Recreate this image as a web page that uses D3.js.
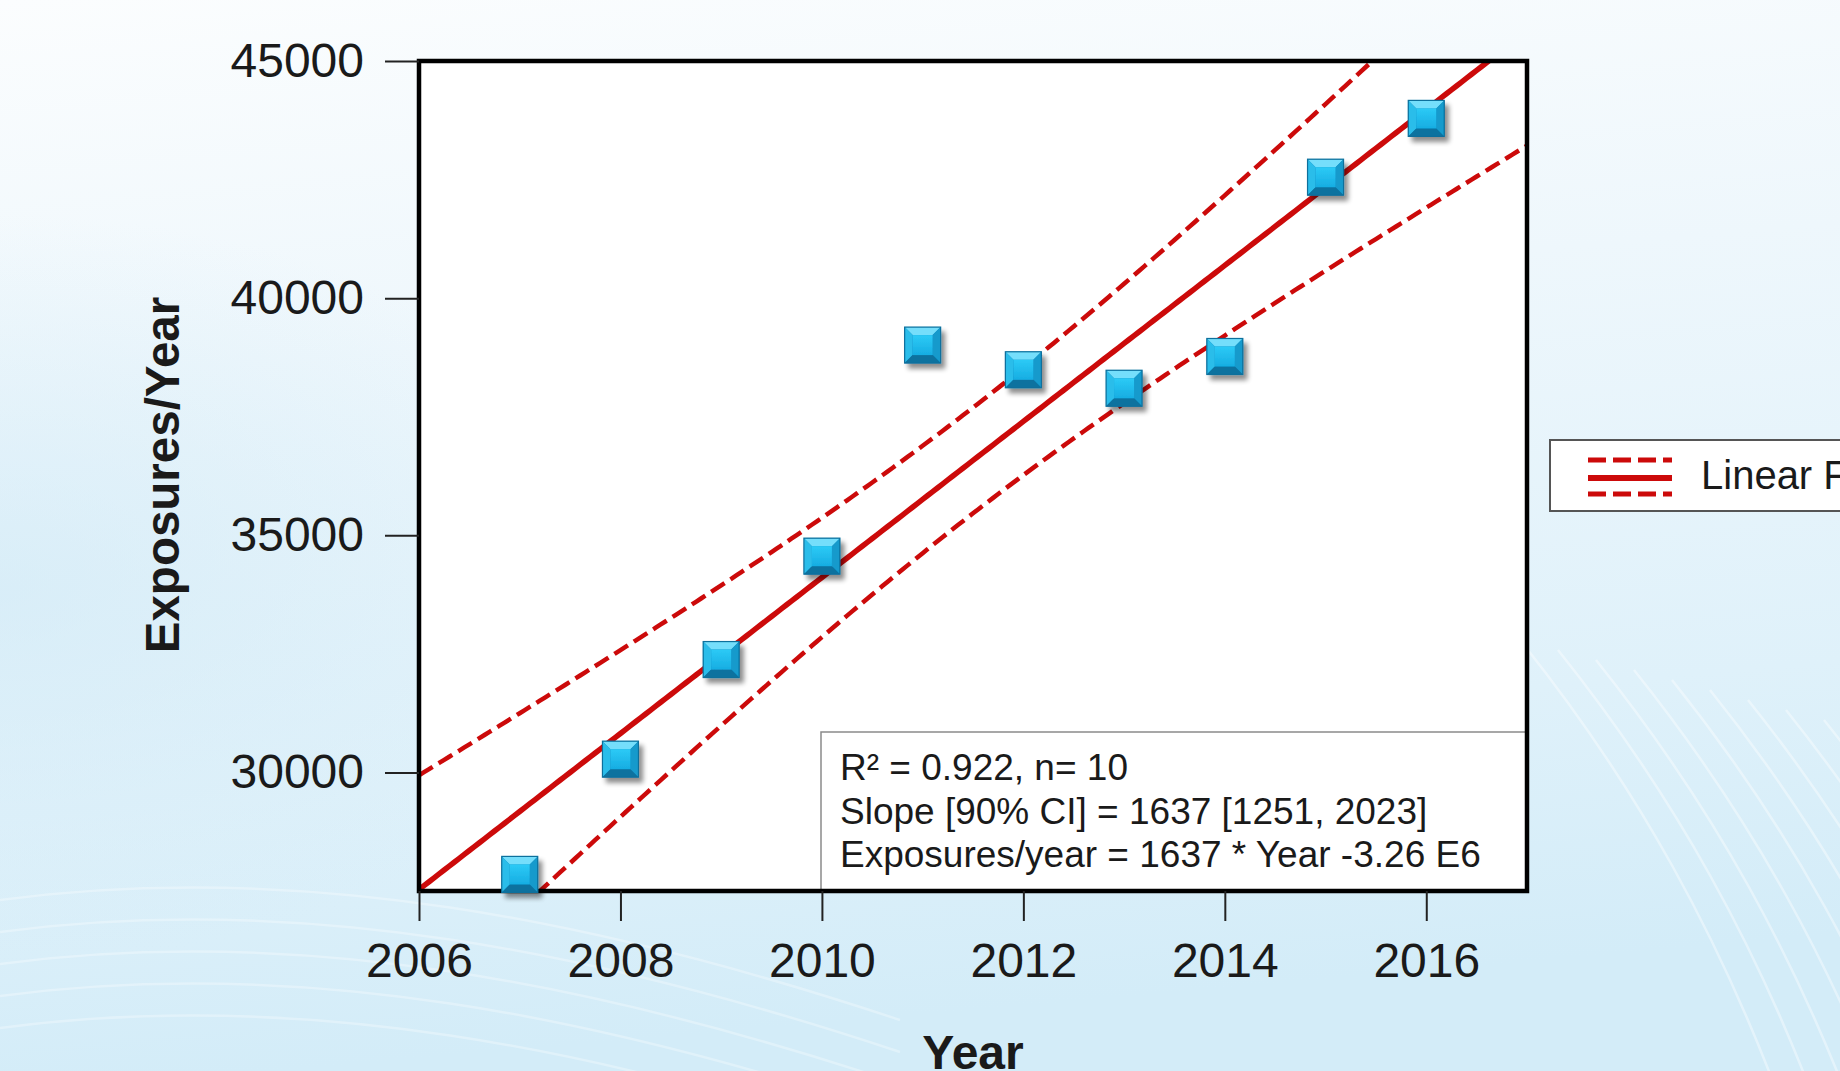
<!DOCTYPE html>
<html>
<head>
<meta charset="utf-8">
<script src="https://cdn.jsdelivr.net/npm/d3@7"></script>
<style>
  html, body { margin: 0; padding: 0; overflow: hidden; }
  body { width: 1840px; height: 1071px; }
  svg { display: block; }
  text { font-family: "Liberation Sans", Arial, sans-serif; fill: #1a1a1a; }
</style>
</head>
<body>
<svg id="chart" width="1840" height="1071"></svg>
<script>
// ---- Data ----
const years = [2007, 2008, 2009, 2010, 2011, 2012, 2013, 2014, 2015, 2016];
const exposures = [27850, 30280, 32380, 34560, 39010, 38490, 38100, 38770, 42550, 43790];
const xTicks = [2006, 2008, 2010, 2012, 2014, 2016];
const yTicks = [30000, 35000, 40000, 45000];
const xDomain = [2006, 2017];
const yDomain = [27500, 45000];
const statsLines = ["R² = 0.922, n= 10", "Slope [90% CI] = 1637 [1251, 2023]", "Exposures/year = 1637 * Year -3.26 E6"];
const legendLabel = "Linear Fit";
const xTitle = "Year";
const yTitle = "Exposures/Year";
const tValue = 2.306; // critical t used for the band (df = 8)

// ---- Layout ----
const W = 1840, H = 1071;
const plot = { left: 419, right: 1527, top: 61, bottom: 891 };
const red = "#cc0a0a";

const svg = d3.select("#chart");
const defs = svg.append("defs");

// background gradient
const bg = defs.append("linearGradient").attr("id", "bg").attr("x1", 0).attr("y1", 0).attr("x2", 0.15).attr("y2", 1);
bg.append("stop").attr("offset", "0%").attr("stop-color", "#fbfdfe");
bg.append("stop").attr("offset", "35%").attr("stop-color", "#eef7fc");
bg.append("stop").attr("offset", "75%").attr("stop-color", "#dff1fa");
bg.append("stop").attr("offset", "100%").attr("stop-color", "#d3ecf8");
svg.append("rect").attr("width", W).attr("height", H).attr("fill", "url(#bg)");

const bg2 = defs.append("radialGradient").attr("id", "bg2").attr("cx", 0).attr("cy", 0.55).attr("r", 0.35);
bg2.append("stop").attr("offset", "0%").attr("stop-color", "#cfe9f6").attr("stop-opacity", 0.6);
bg2.append("stop").attr("offset", "100%").attr("stop-color", "#cfe9f6").attr("stop-opacity", 0);
svg.append("rect").attr("width", W).attr("height", H).attr("fill", "url(#bg2)");

// faint swooshes
const sw = svg.append("g").attr("fill", "none").attr("stroke", "#ffffff").attr("stroke-opacity", 0.4).attr("stroke-width", 2.5);
for (let i = 0; i < 9; i++) {
  const x0 = 1520 + i * 38, y0 = 640 + i * 10;
  sw.append("path").attr("d", `M${x0},${y0} C${x0 + 120},${y0 + 150} ${x0 + 200},${y0 + 300} ${x0 + 260},${y0 + 460}`);
}
for (let i = 0; i < 5; i++) {
  const y0 = 900 + i * 32;
  sw.append("path").attr("d", `M0,${y0} C300,${y0 - 40} 600,${y0 + 20} 900,${y0 + 120}`).attr("stroke-opacity", 0.3);
}

// ---- Scales ----
const x = d3.scaleLinear().domain(xDomain).range([plot.left, plot.right]);
const y = d3.scaleLinear().domain(yDomain).range([plot.bottom, plot.top]);

// plot background
svg.append("rect").attr("x", plot.left).attr("y", plot.top)
  .attr("width", plot.right - plot.left).attr("height", plot.bottom - plot.top).attr("fill", "#ffffff");

// ---- Regression (ordinary least squares from the data) ----
const n = years.length;
const xm = d3.mean(years), ym = d3.mean(exposures);
const sxx = d3.sum(years, v => (v - xm) ** 2);
const sxy = d3.sum(years.map((v, i) => (v - xm) * (exposures[i] - ym)));
const slope = sxy / sxx;
const icpt = ym - slope * xm;
const sse = d3.sum(years.map((v, i) => (exposures[i] - (icpt + slope * v)) ** 2));
const s = Math.sqrt(sse / (n - 2));
const fit = v => icpt + slope * v;
const half = v => tValue * s * Math.sqrt(1 / n + (v - xm) ** 2 / sxx);
const xs = d3.range(xDomain[0], xDomain[1] + 0.0001, 0.05);

defs.append("clipPath").attr("id", "clip").append("rect")
  .attr("x", plot.left).attr("y", plot.top)
  .attr("width", plot.right - plot.left).attr("height", plot.bottom - plot.top);

const lines = svg.append("g").attr("clip-path", "url(#clip)");
const lineGen = f => d3.line().x(v => x(v)).y(v => y(f(v)))(xs);
lines.append("path").attr("d", lineGen(v => fit(v) + half(v))).attr("fill", "none")
  .attr("stroke", red).attr("stroke-width", 4.5).attr("stroke-dasharray", "16 7");
lines.append("path").attr("d", lineGen(v => fit(v) - half(v))).attr("fill", "none")
  .attr("stroke", red).attr("stroke-width", 4.5).attr("stroke-dasharray", "16 7");
lines.append("path").attr("d", lineGen(fit)).attr("fill", "none")
  .attr("stroke", red).attr("stroke-width", 5.5);

// ---- Stats box ----
const box = svg.append("g");
box.append("rect").attr("x", 821).attr("y", 732).attr("width", plot.right - 821).attr("height", plot.bottom - 732)
  .attr("fill", "#ffffff").attr("stroke", "#8a8a8a").attr("stroke-width", 1.5);
statsLines.forEach((t, i) => {
  box.append("text").attr("x", 840).attr("y", 780 + i * 43.5)
    .attr("font-size", 37).text(t);
});

// ---- Frame ----
svg.append("rect").attr("x", plot.left).attr("y", plot.top)
  .attr("width", plot.right - plot.left).attr("height", plot.bottom - plot.top)
  .attr("fill", "none").attr("stroke", "#000").attr("stroke-width", 4.5);

// ---- Axes ----
const gx = svg.append("g").attr("transform", `translate(0,${plot.bottom})`)
  .call(d3.axisBottom(x).tickValues(xTicks).tickFormat(d3.format("d")).tickSize(30).tickPadding(22));
const gy = svg.append("g").attr("transform", `translate(${plot.left},0)`)
  .call(d3.axisLeft(y).tickValues(yTicks).tickFormat(d3.format("d")).tickSize(34).tickPadding(21));
[gx, gy].forEach(g => {
  g.select(".domain").remove();
  g.selectAll(".tick line").attr("stroke", "#222").attr("stroke-width", 2);
  g.selectAll(".tick text").attr("font-size", 48).attr("fill", "#1a1a1a")
    .attr("font-family", "'Liberation Sans', Arial, sans-serif");
});

svg.append("text").attr("x", (plot.left + plot.right) / 2).attr("y", 1069)
  .attr("text-anchor", "middle").attr("font-size", 48).attr("font-weight", "bold").text(xTitle);
svg.append("text").attr("transform", `translate(179,${(plot.top + plot.bottom) / 2 - 1}) rotate(-90)`)
  .attr("text-anchor", "middle").attr("font-size", 47.5).attr("font-weight", "bold").text(yTitle);

// ---- Markers (bevelled squares) ----
const shadow = defs.append("filter").attr("id", "shadow").attr("x", "-30%").attr("y", "-30%").attr("width", "170%").attr("height", "170%");
shadow.append("feGaussianBlur").attr("in", "SourceAlpha").attr("stdDeviation", 2.5);
shadow.append("feOffset").attr("dx", 4).attr("dy", 5).attr("result", "ob");
shadow.append("feComponentTransfer").append("feFuncA").attr("type", "linear").attr("slope", 0.45);
const fm = shadow.append("feMerge");
fm.append("feMergeNode");
fm.append("feMergeNode").attr("in", "SourceGraphic");

const face = defs.append("linearGradient").attr("id", "face").attr("x1", 0).attr("y1", 0).attr("x2", 0).attr("y2", 1);
face.append("stop").attr("offset", "0%").attr("stop-color", "#2ccaf6");
face.append("stop").attr("offset", "100%").attr("stop-color", "#17ade2");

const S = 36, b = 8;
const mk = svg.append("g").selectAll("g").data(years).join("g")
  .attr("transform", (d, i) => `translate(${x(d)},${y(exposures[i])})`)
  .attr("filter", "url(#shadow)");
const h = S / 2;
mk.append("rect").attr("x", -h).attr("y", -h).attr("width", S).attr("height", S).attr("fill", "#0d86bd");
mk.append("path").attr("d", `M${-h},${-h} L${h},${-h} L${h - b},${-h + b} L${-h + b},${-h + b} Z`).attr("fill", "#74defb");
mk.append("path").attr("d", `M${-h},${-h} L${-h + b},${-h + b} L${-h + b},${h - b} L${-h},${h} Z`).attr("fill", "#2cbdea");
mk.append("path").attr("d", `M${h},${-h} L${h},${h} L${h - b},${h - b} L${h - b},${-h + b} Z`).attr("fill", "#169acc");
mk.append("path").attr("d", `M${-h},${h} L${h},${h} L${h - b},${h - b} L${-h + b},${h - b} Z`).attr("fill", "#0a729f");
mk.append("rect").attr("x", -h + b).attr("y", -h + b).attr("width", S - 2 * b).attr("height", S - 2 * b).attr("fill", "url(#face)");
mk.append("rect").attr("x", -h).attr("y", -h).attr("width", S).attr("height", S).attr("fill", "none")
  .attr("stroke", "#0b6f9c").attr("stroke-width", 1.2);

// ---- Legend ----
const lg = svg.append("g");
lg.append("rect").attr("x", 1550).attr("y", 440).attr("width", 320).attr("height", 71)
  .attr("fill", "#ffffff").attr("stroke", "#555").attr("stroke-width", 2);
[[460, true], [478, false], [494, true]].forEach(([yy, dashed]) => {
  lg.append("line").attr("x1", 1588).attr("x2", 1672).attr("y1", yy).attr("y2", yy)
    .attr("stroke", red).attr("stroke-width", dashed ? 5 : 6)
    .attr("stroke-dasharray", dashed ? "18 7" : null);
});
lg.append("text").attr("x", 1701).attr("y", 489).attr("font-size", 40).text(legendLabel);
</script>
</body>
</html>
